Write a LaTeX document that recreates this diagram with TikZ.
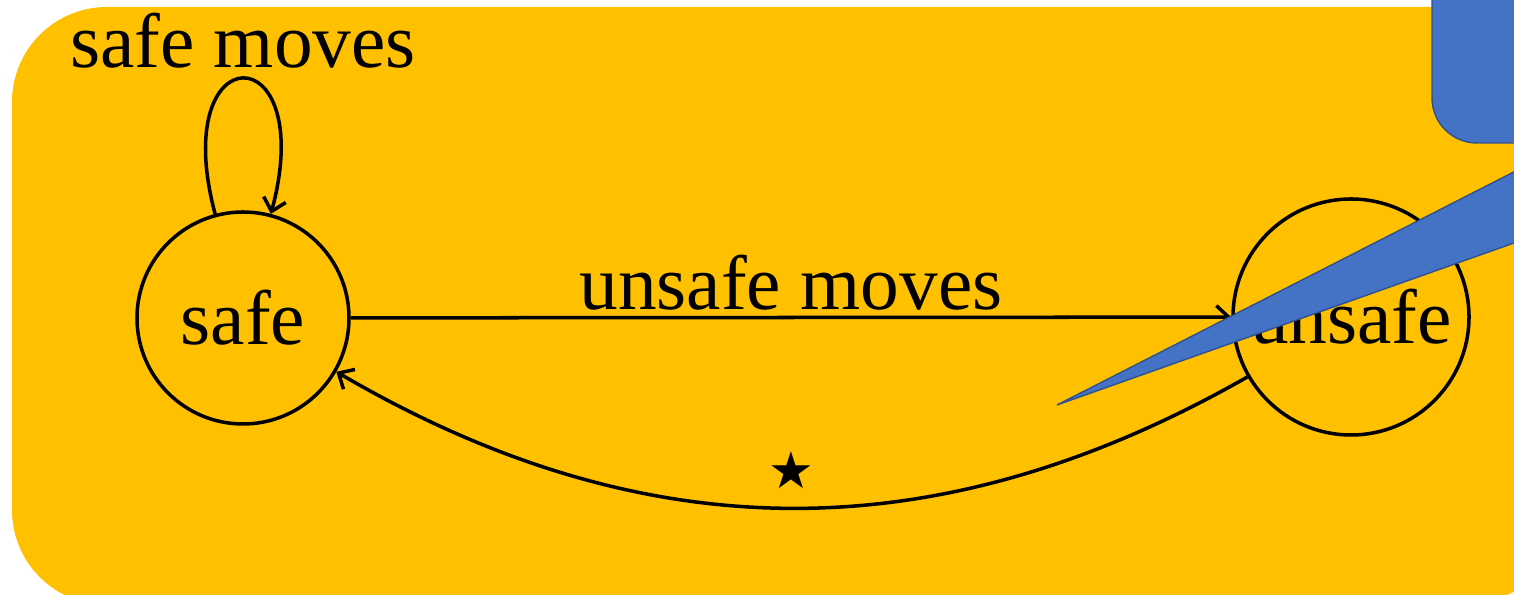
\documentclass[tikz,border=0pt]{standalone}
\usepackage{fontspec}
\setmainfont{Liberation Serif}
\newfontfamily\symbfont{DejaVu Sans}
\usetikzlibrary{arrows.meta}
\definecolor{panelorange}{HTML}{FFC000}
\definecolor{calloutblue}{HTML}{4472C4}
\definecolor{calloutedge}{HTML}{2F528F}
\tikzset{
  state/.style={circle,draw,line width=2pt,minimum size=4.24cm,inner sep=0pt},
  move/.style={line width=2pt,-{Straight Barb[length=7pt,width=13pt,line width=2pt]}},
  callout/.style={fill=calloutblue,draw=calloutedge,line width=0.8pt}
}
\begin{document}
\begin{tikzpicture}[font=\fontsize{44}{50}\selectfont]
\useasboundingbox (0,0) rectangle (30.28,11.9);
\clip (0,0) rectangle (30.28,11.9);
% background panel
\fill[panelorange,rounded corners=1.9cm] (0.24,-0.2) rectangle (31.2,11.76);
% states
\node[state] (safe) at (4.86,5.54) {safe};
\node[state,minimum size=4.72cm] (unsafe) at (27.02,5.56) {unsafe};
% moves
\draw[move] (safe) edge[loop above,looseness=8.6] node[above,inner sep=5pt] (selflabel) {safe moves} (safe);
\draw[move] (safe) -- node[above] (fwdlabel) {unsafe moves} (unsafe);
\draw[move] (unsafe) to[bend left=30] node[above,inner sep=10pt,font=\symbfont\fontsize{29}{30}\selectfont] (backlabel) {★} (safe);
% callout
\draw[callout] (21.14,3.8) -- (32,9.34) -- (32,7.65) -- cycle;
\draw[callout,rounded corners=0.9cm] (28.64,9.04) rectangle (33,13);
\end{tikzpicture}
\end{document}
